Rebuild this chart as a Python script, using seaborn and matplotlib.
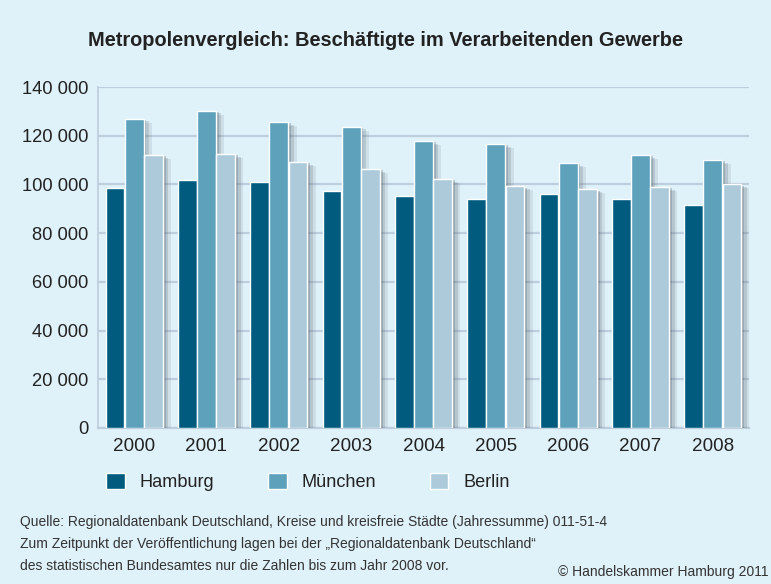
import pandas as pd
import matplotlib
matplotlib.use("Agg")
import matplotlib.pyplot as plt
import matplotlib.patheffects as pe
from matplotlib.patches import Patch
from matplotlib.ticker import FuncFormatter, MultipleLocator
import seaborn as sns

# Daten (Beschäftigte im Verarbeitenden Gewerbe)
years = ["2000", "2001", "2002", "2003", "2004", "2005", "2006", "2007", "2008"]
hamburg = [98600, 101800, 101000, 97200, 95200, 93900, 96000, 93900, 91400]
muenchen = [127000, 130300, 125700, 123700, 117900, 116600, 108800, 112100, 110000]
berlin = [112100, 112500, 109300, 106400, 102200, 99300, 98000, 98900, 100100]
cities = ["Hamburg", "München", "Berlin"]
colors = ["#005b7f", "#5ea1bb", "#adcadb"]

footer_lines = [
    "Quelle: Regionaldatenbank Deutschland, Kreise und kreisfreie Städte (Jahressumme) 011-51-4",
    "Zum Zeitpunkt der Veröffentlichung lagen bei der „Regionaldatenbank Deutschland“",
    "des statistischen Bundesamtes nur die Zahlen bis zum Jahr 2008 vor.",
]

df = pd.DataFrame({
    "Jahr": years * 3,
    "Stadt": [c for c in cities for _ in years],
    "Wert": hamburg + muenchen + berlin,
})

BG = "#dff1f9"
GRID = "#bfcedd"
TXT = "#222222"

sns.set_theme(style="white")
plt.rcParams["font.family"] = ["Liberation Sans", "DejaVu Sans"]

fig = plt.figure(figsize=(7.71, 5.84), dpi=100, facecolor=BG)
ax = fig.add_axes([98 / 771, 1 - 428 / 584, 651 / 771, 341 / 584])
ax.set_facecolor(BG)

sns.barplot(data=df, x="Jahr", y="Wert", hue="Stadt", hue_order=cities,
            palette=colors, width=0.8, gap=0.03, saturation=1,
            legend=False, ax=ax, zorder=3)

# weiche Schatten rechts neben den Balken
for p in ax.patches:
    p.set_path_effects([
        pe.SimplePatchShadow(offset=(6, -3), shadow_rgbFace="#56656f", alpha=0.12),
        pe.SimplePatchShadow(offset=(4, -2), shadow_rgbFace="#56656f", alpha=0.2),
        pe.SimplePatchShadow(offset=(2, -1), shadow_rgbFace="#56656f", alpha=0.3),
        pe.Normal(),
    ])

ax.set_ylim(0, 140000)
ax.set_xlim(-0.5, 8.5)
ax.yaxis.set_major_locator(MultipleLocator(20000))
ax.yaxis.set_major_formatter(FuncFormatter(lambda v, _: f"{int(v):,}".replace(",", " ")))
ax.grid(axis="y", color=GRID, linewidth=1.6, zorder=0)
ax.set_axisbelow(True)
for s in ["top", "right"]:
    ax.spines[s].set_visible(False)
ax.spines["left"].set_color(GRID)
ax.spines["left"].set_linewidth(1.2)
ax.spines["bottom"].set_color(GRID)
ax.spines["bottom"].set_linewidth(1.6)
ax.tick_params(axis="y", length=0, labelsize=13.2, colors=TXT, pad=7)
ax.tick_params(axis="x", length=0, labelsize=13.6, colors=TXT, pad=7)
ax.set_xlabel("")
ax.set_ylabel("")

fig.text(0.5, 1 - 40 / 584, "Metropolenvergleich: Beschäftigte im Verarbeitenden Gewerbe",
         ha="center", va="center", fontsize=14.4, fontweight="bold", color=TXT)

handles = [Patch(facecolor=c, label=n) for c, n in zip(colors, cities)]
fig.legend(handles=handles, loc="center left", bbox_to_anchor=(90 / 771, 1 - 482 / 584),
           ncol=3, frameon=False, fontsize=13.1, handlelength=1.0, handleheight=1.0,
           handletextpad=0.8, columnspacing=3.0, labelcolor=TXT)

for line, y in zip(footer_lines, [522, 544, 566]):
    fig.text(20 / 771, 1 - y / 584, line, ha="left", va="center", fontsize=10.0, color="#333333")
fig.text(768 / 771, 1 - 572 / 584, "© Handelskammer Hamburg 2011", ha="right", va="center",
         fontsize=10.0, color="#333333")

fig.savefig("out.png", dpi=100, facecolor=BG)
